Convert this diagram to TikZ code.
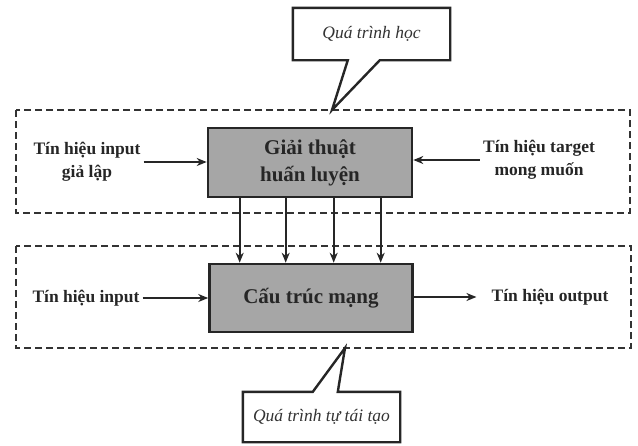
\documentclass[tikz,border=0pt]{standalone}
\usepackage{fontspec}
\setmainfont{Liberation Serif}
\usetikzlibrary{arrows.meta,calc}
\begin{document}
\begin{tikzpicture}[x=1pt,y=-1pt,
  zone/.style={draw=black!80,line width=1.3pt,dash pattern=on 7pt off 4pt},
  block/.style={draw=black!85,line width=2.6pt,fill=black!35,font=\fontsize{21}{27}\selectfont\bfseries,align=center,text=black!85},
  lbl/.style={font=\fontsize{17.5}{23}\selectfont\bfseries,align=center,text=black!85,inner sep=3pt},
  note/.style={font=\fontsize{17.5}{20}\selectfont\itshape,text=black!80},
  callout/.style={draw=black!85,line width=2.4pt,fill=white,line join=miter},
  arr/.style={draw=black!85,line width=2.3pt,-{Stealth[length=10pt,width=8pt]}}]
\useasboundingbox (0,0) rectangle (638,445);
% dashed zones
\draw[zone] (16,110) rectangle (630,213);
\draw[zone] (16,246) rectangle (631,348);
\coordinate (apexA) at (332,110);
\coordinate (apexB) at (345,348);
% blocks
\node[block,minimum width=204pt,minimum height=69pt] (giai) at (310,162.5) {Giải thuật\\huấn luyện};
\node[block,minimum width=203pt,minimum height=68pt] (cau) at (311,298) {Cấu trúc mạng};
% labels
\node[lbl] (in1) at (87,162) {Tín hiệu input\\giả lập};
\node[lbl] (tgt) at (539,160) {Tín hiệu target\\mong muốn};
\node[lbl] (in2) at (86,298) {Tín hiệu input};
\node[lbl] (out) at (550,297) {Tín hiệu output};
% arrows
\draw[arr] (in1.east) -- (giai.west |- in1.east);
\draw[arr] (tgt.west) -- (giai.east |- tgt.west);
\draw[arr] (in2.east) -- (cau.west |- in2.east);
\draw[arr,shorten >=12pt] (cau.east |- out.west) -- (out.west);
\foreach \dx in {33,79,127,174}
  \draw[arr] ([xshift=\dx pt]giai.south west) -- ([xshift=\dx pt]giai.south west |- cau.north);
% callouts
\node[minimum width=157pt,minimum height=52pt,inner sep=0pt] (hoc) at (371.5,34) {};
\draw[callout] (hoc.north west) -- (hoc.north east) -- (hoc.south east)
  -- ([xshift=87pt]hoc.south west) -- (apexA) -- ([xshift=55pt]hoc.south west)
  -- (hoc.south west) -- cycle;
\node[note] at (hoc.center) {Quá trình học};
\node[minimum width=157pt,minimum height=50pt,inner sep=0pt] (tt) at (321.5,417) {};
\draw[callout] (tt.north west) -- ([xshift=70pt]tt.north west) -- (apexB)
  -- ([xshift=95pt]tt.north west) -- (tt.north east) -- (tt.south east)
  -- (tt.south west) -- cycle;
\node[note] at (tt.center) {Quá trình tự tái tạo};
\end{tikzpicture}
\end{document}
